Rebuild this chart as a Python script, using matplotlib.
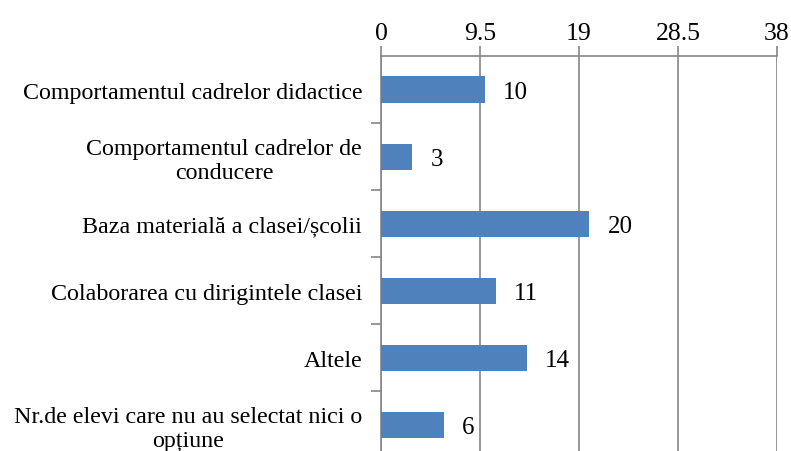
import matplotlib
matplotlib.use("Agg")
import matplotlib.pyplot as plt
import numpy as np

categories = [
    "Comportamentul cadrelor didactice",
    "Comportamentul cadrelor de\nconducere",
    "Baza materială a clasei/școlii",
    "Colaborarea cu dirigintele clasei",
    "Altele",
    "Nr.de elevi care nu au selectat nici o\nopțiune",
]
values = [10, 3, 20, 11, 14, 6]
x_ticks = [0, 9.5, 19, 28.5, 38]
x_tick_labels = ["0", "9.5", "19", "28.5", "38"]

plt.rcParams["font.family"] = ["Liberation Serif", "DejaVu Serif"]

fig = plt.figure(figsize=(7.91, 4.52), dpi=100)
ax = fig.add_axes([381 / 791, 1 - 459.5 / 452, 396 / 791, (459.5 - 57) / 452])

bar_color = "#4F81BD"
grid_color = "#868686"
y = np.arange(len(categories))
ax.barh(y, values, height=0.39, color=bar_color, zorder=3)

ax.set_xlim(0, 38)
ax.set_ylim(len(categories) - 0.5, -0.5)

ax.xaxis.tick_top()
ax.set_xticks(x_ticks)
ax.set_xticklabels(x_tick_labels, fontsize=18.5)
ax.tick_params(axis="x", which="major", direction="out", length=7, width=1.2,
               color=grid_color, pad=2)
ax.grid(axis="x", color=grid_color, linewidth=1.2, zorder=0)

ax.set_yticks(y)
ax.set_yticklabels(categories, fontsize=17.3, multialignment="center",
                   linespacing=1.15)
ax.tick_params(axis="y", which="major", length=0, pad=13.5)
ax.set_yticks(np.arange(len(categories) - 1) + 0.5, minor=True)
ax.tick_params(axis="y", which="minor", direction="out", length=7, width=1.2,
               color=grid_color)

for side in ("right", "bottom"):
    ax.spines[side].set_visible(False)
for side in ("left", "top"):
    ax.spines[side].set_color(grid_color)
    ax.spines[side].set_linewidth(1.2)

for yi, v in zip(y, values):
    ax.annotate(str(v), xy=(v, yi), xytext=(13, 0), textcoords="offset points",
                va="center_baseline", ha="left", fontsize=18)

fig.savefig("out.png", dpi=100)
